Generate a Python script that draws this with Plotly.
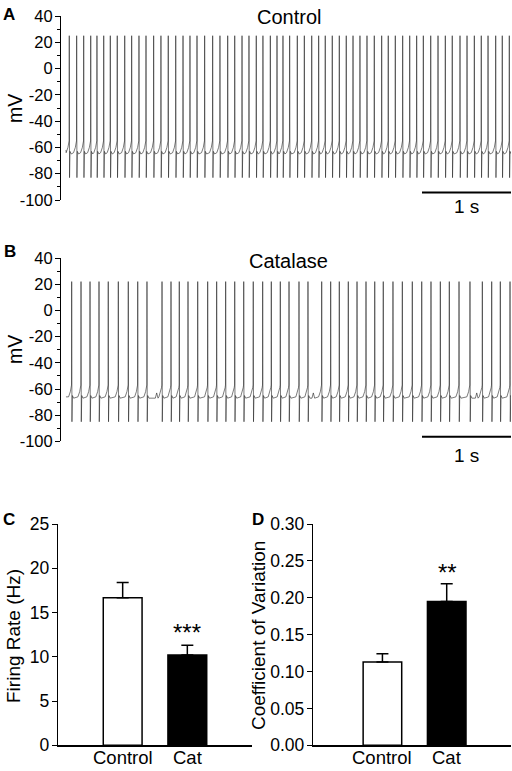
import plotly.graph_objects as go

W, H = 512, 771
FONT = "Liberation Sans, Arial, sans-serif"

# ---------------- data ----------------
# Panel A (Control): spike times (s)
control_spikes = [0.037, 0.120, 0.199, 0.278, 0.348, 0.424, 0.498, 0.576, 0.660, 0.738,
                  0.820, 0.899, 0.985, 1.067, 1.149, 1.233, 1.315, 1.393, 1.472, 1.558,
                  1.648, 1.730, 1.817, 1.896, 1.978, 2.056, 2.138, 2.213, 2.296, 2.371,
                  2.438, 2.513, 2.599, 2.678, 2.761, 2.839, 2.913, 2.992, 3.071, 3.149,
                  3.225, 3.303, 3.382, 3.464, 3.547, 3.621, 3.700, 3.783, 3.862, 3.940,
                  4.015, 4.098, 4.180, 4.262, 4.340, 4.427, 4.506, 4.588, 4.666, 4.742,
                  4.828, 4.902, 4.981]
control_levels = {"peak": 25, "trough": -83, "ahp": -65, "threshold": -55, "start": -62}

# Panel B (Catalase): spike times (s) and small sub-threshold bumps (s)
catalase_spikes = [0.064, 0.169, 0.270, 0.371, 0.475, 0.588, 0.700, 0.806, 0.910, 1.079,
                   1.180, 1.273, 1.371, 1.480, 1.592, 1.693, 1.794, 1.896, 1.997, 2.104,
                   2.210, 2.307, 2.408, 2.506, 2.618, 2.719, 2.873, 2.974, 3.071, 3.172,
                   3.270, 3.371, 3.469, 3.565, 3.674, 3.779, 3.891, 3.997, 4.101, 4.206,
                   4.307, 4.416, 4.539, 4.678, 4.783, 4.880, 4.989]
catalase_bumps = [1.019, 2.779, 4.615]
catalase_levels = {"peak": 22, "trough": -85, "ahp": -67, "threshold": -57, "start": -66}

trace_end = 5.0
yticks_mv = [-100, -80, -60, -40, -20, 0, 20, 40]
yminor_mv = [-90, -70, -50, -30, -10, 10, 30]

# Panel C / D
groups = ["Control", "Cat"]
firing_rate = [16.67, 10.2]
firing_rate_sem = [1.73, 1.1]
cv = [0.113, 0.195]
cv_sem = [0.011, 0.024]
c_ticks = [0, 5, 10, 15, 20, 25]
d_ticks = [0.00, 0.05, 0.10, 0.15, 0.20, 0.25, 0.30]

# ---------------- build voltage traces from spike times ----------------
def build_trace(spikes, lv, bumps=()):
    ahp, thr = lv["ahp"], lv["threshold"]
    pre = [(0.035, ahp + 1), (0.015, thr - 5), (0.006, thr - 2), (0.002, thr)]
    xs, ys = [0.0], [lv["start"]]
    for i, t in enumerate(spikes):
        for dt, v in pre:
            if t - dt > xs[-1]:
                xs.append(t - dt); ys.append(v)
        xs += [t, t + 0.003, t + 0.008, t + 0.022]
        ys += [lv["peak"], lv["trough"], ahp + 2, ahp]
        nxt = spikes[i + 1] if i + 1 < len(spikes) else trace_end
        for b in bumps:
            if t < b < nxt:
                xs += [b - 0.015, b, b + 0.015]
                ys += [ahp, ahp + 4, ahp]
    if xs[-1] < trace_end:
        xs.append(trace_end); ys.append(ahp + 1)
    return xs, ys

ax, ay = build_trace(control_spikes, control_levels)
bx, by = build_trace(catalase_spikes, catalase_levels, catalase_bumps)

fig = go.Figure()
line_style = dict(color="#222222", width=0.6)
fig.add_trace(go.Scatter(x=ax, y=ay, mode="lines", line=line_style, xaxis="x", yaxis="y",
                         showlegend=False, hoverinfo="skip"))
fig.add_trace(go.Scatter(x=bx, y=by, mode="lines", line=line_style, xaxis="x2", yaxis="y2",
                         showlegend=False, hoverinfo="skip"))

# scale bars (1 s)
scalebar_start, scalebar_len = 4.0, 1.0
scalebar_mv_a, scalebar_mv_b = -94.2, -96.5
for xa, ya, yv in [("x", "y", scalebar_mv_a), ("x2", "y2", scalebar_mv_b)]:
    fig.add_trace(go.Scatter(x=[scalebar_start, scalebar_start + scalebar_len], y=[yv, yv],
                             mode="lines", line=dict(color="black", width=2),
                             xaxis=xa, yaxis=ya, showlegend=False, cliponaxis=False,
                             hoverinfo="skip"))

# bars
bar_colors = ["white", "black"]
fig.add_trace(go.Bar(x=[0, 1], y=firing_rate, width=0.6, xaxis="x3", yaxis="y3",
                     marker=dict(color=bar_colors, line=dict(color="black", width=1.5)),
                     error_y=dict(type="data", array=firing_rate_sem, arrayminus=[0, 0],
                                  symmetric=False, color="black", thickness=1.5, width=6),
                     showlegend=False, hoverinfo="skip"))
fig.add_trace(go.Bar(x=[0, 1], y=cv, width=0.6, xaxis="x4", yaxis="y4",
                     marker=dict(color=bar_colors, line=dict(color="black", width=1.5)),
                     error_y=dict(type="data", array=cv_sem, arrayminus=[0, 0],
                                  symmetric=False, color="black", thickness=1.5, width=6),
                     showlegend=False, hoverinfo="skip"))

def px(x): return x / W
def py(y): return 1 - y / H

trace_yaxis = dict(range=[-100, 40], showline=True, linecolor="black", linewidth=1,
                   ticks="outside", ticklen=5, tickcolor="black", tickwidth=1,
                   tickvals=yticks_mv, ticktext=[str(v) for v in yticks_mv],
                   tickfont=dict(family=FONT, size=16.5, color="black"),
                   ticklabelstandoff=-1,
                   minor=dict(tickvals=yminor_mv, ticks="outside", ticklen=3,
                              tickcolor="black", tickwidth=1),
                   showgrid=False, zeroline=False, fixedrange=True, automargin=False)
trace_xaxis = dict(range=[-0.056, 5.0], visible=False, showgrid=False, zeroline=False,
                   automargin=False)

bar_x = dict(range=[-1, 2], showline=True, linecolor="black", linewidth=1.2, ticks="",
             tickvals=[0, 1], showticklabels=False,
             showgrid=False, zeroline=False, automargin=False)

bar_y = dict(showline=True, linecolor="black", linewidth=1.2, ticks="outside", ticklen=5,
             tickcolor="black", tickfont=dict(family=FONT, size=17.5, color="black"),
             ticklabelstandoff=-1, showgrid=False, zeroline=False, automargin=False)

fig.update_layout(
    width=W, height=H, margin=dict(l=0, r=0, t=0, b=0, pad=0), autosize=False,
    paper_bgcolor="white", plot_bgcolor="white", bargap=0,
    font=dict(family=FONT, color="black"),
    xaxis=dict(domain=[px(61), px(511)], anchor="y", **trace_xaxis),
    yaxis=dict(domain=[py(200), py(16)], anchor="x", **trace_yaxis),
    xaxis2=dict(domain=[px(61), px(511)], anchor="y2", **trace_xaxis),
    yaxis2=dict(domain=[py(441.4), py(258)], anchor="x2", **trace_yaxis),
    xaxis3=dict(domain=[px(58), px(252)], anchor="y3", **bar_x),
    yaxis3=dict(domain=[py(745.3), py(524)], anchor="x3", range=[0, 25],
                tickvals=c_ticks, ticktext=[str(v) for v in c_ticks], **bar_y),
    xaxis4=dict(domain=[px(313), px(511)], anchor="y4", **{**bar_x, "range": [-1.08, 2.0]}),
    yaxis4=dict(domain=[py(745.3), py(524)], anchor="x4", range=[0, 0.3],
                tickvals=d_ticks, ticktext=[f"{v:.2f}" for v in d_ticks], **bar_y),
)

ann = []
def text(x, y, s, size, bold=False, angle=0, xanchor="center", yanchor="middle",
         xref="paper", yref="paper"):
    ann.append(dict(x=px(x) if xref == "paper" else x, y=py(y) if yref == "paper" else y,
                    xref=xref, yref=yref, text=f"<b>{s}</b>" if bold else s,
                    showarrow=False, textangle=angle, xanchor=xanchor, yanchor=yanchor,
                    font=dict(family=FONT, size=size, color="black")))

text(9, 14, "A", 17, bold=True)
text(10, 252, "B", 17, bold=True)
text(9, 519, "C", 17, bold=True)
text(258, 519, "D", 17, bold=True)
text(289, 17, "Control", 20)
text(288, 261, "Catalase", 20)
text(15, 109, "mV", 19.5, angle=-90)
text(15, 350, "mV", 19.5, angle=-90)
text(466, 207, "1 s", 19)
text(466, 455, "1 s", 19)
text(13, 636, "Firing Rate (Hz)", 19, angle=-90)
text(258, 636, "Coefficient of Variation", 19, angle=-90)
text(187, 632, "***", 24)
text(447, 572, "**", 24)
# category labels under the bars
for i, g in enumerate(groups):
    for xr in ("x3", "x4"):
        text(i, 757.5, g, 18.5, xref=xr)

fig.update_layout(annotations=ann)

fig.write_html("out.html", config={"displayModeBar": False, "staticPlot": True},
               post_script="document.body.style.margin='0';document.body.style.padding='0';"
                           "document.body.style.overflow='hidden';")
